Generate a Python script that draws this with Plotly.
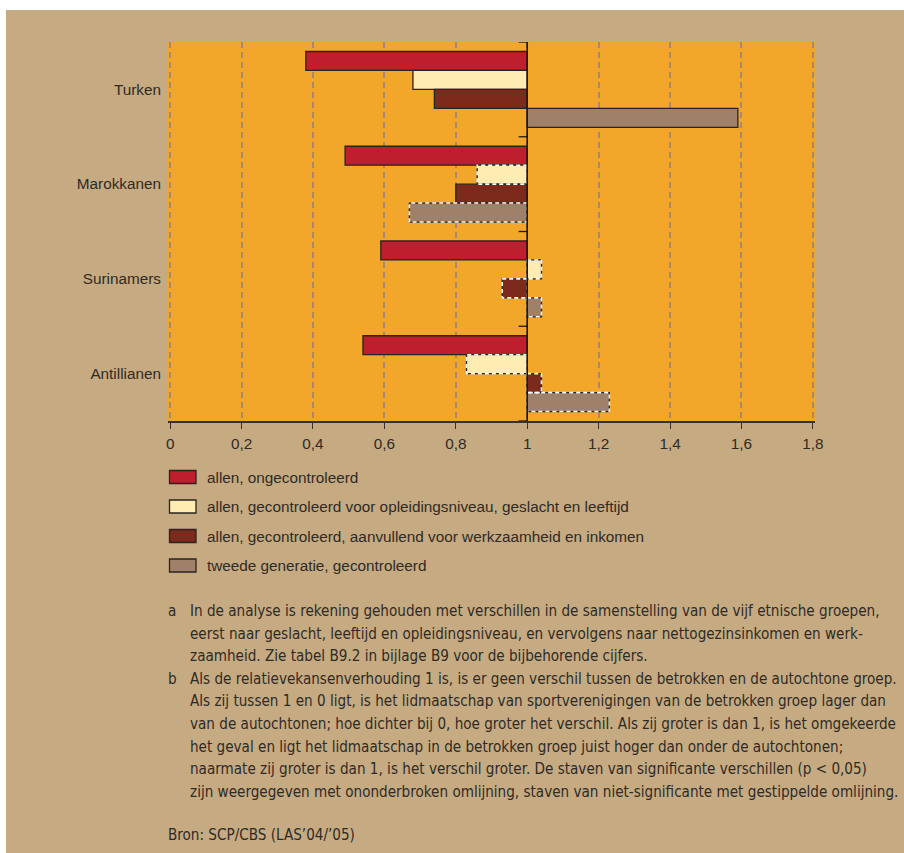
import plotly.graph_objects as go

# ---------------- data ----------------
categories = ["Turken", "Marokkanen", "Surinamers", "Antillianen"]
series_names = [
    "allen, ongecontroleerd",
    "allen, gecontroleerd voor opleidingsniveau, geslacht en leeftijd",
    "allen, gecontroleerd, aanvullend voor werkzaamheid en inkomen",
    "tweede generatie, gecontroleerd",
]
ongecontroleerd = [0.38, 0.49, 0.59, 0.54]
gecontroleerd_opleiding = [0.68, 0.86, 1.04, 0.83]
gecontroleerd_werk_inkomen = [0.74, 0.80, 0.93, 1.04]
tweede_generatie = [1.59, 0.67, 1.04, 1.23]

significant_ongecontroleerd = [True, True, True, True]
significant_opleiding = [True, False, False, False]
significant_werk_inkomen = [True, True, False, False]
significant_tweede = [True, False, False, False]

x_tick_values = [0, 0.2, 0.4, 0.6, 0.8, 1, 1.2, 1.4, 1.6, 1.8]
x_tick_labels = ["0", "0,2", "0,4", "0,6", "0,8", "1", "1,2", "1,4", "1,6", "1,8"]

footnote_a = [
    "In de analyse is rekening gehouden met verschillen in de samenstelling van de vijf etnische groepen,",
    "eerst naar geslacht, leeftijd en opleidingsniveau, en vervolgens naar nettogezinsinkomen en werk-",
    "zaamheid. Zie tabel B9.2 in bijlage B9 voor de bijbehorende cijfers.",
]
footnote_b = [
    "Als de relatievekansenverhouding 1 is, is er geen verschil tussen de betrokken en de autochtone groep.",
    "Als zij tussen 1 en 0 ligt, is het lidmaatschap van sportverenigingen van de betrokken groep lager dan",
    "van de autochtonen; hoe dichter bij 0, hoe groter het verschil. Als zij groter is dan 1, is het omgekeerde",
    "het geval en ligt het lidmaatschap in de betrokken groep juist hoger dan onder de autochtonen;",
    "naarmate zij groter is dan 1, is het verschil groter. De staven van significante verschillen (p &lt; 0,05)",
    "zijn weergegeven met ononderbroken omlijning, staven van niet-significante met gestippelde omlijning.",
]
source_text = "Bron: SCP/CBS (LAS’04/’05)"

BASE = 1.0

# ---------------- style ----------------
colors = ["#be1e2d", "#feecb2", "#7b2a1c", "#9f8068"]
values = [ongecontroleerd, gecontroleerd_opleiding, gecontroleerd_werk_inkomen, tweede_generatie]
significance = [significant_ongecontroleerd, significant_opleiding,
                significant_werk_inkomen, significant_tweede]

TAN = "#c6aa81"
ORANGE = "#f2a72b"
GRID = "#a68a6b"
DARK = "#2a2420"
TEXT = "#2f2a26"

W_PX, H_PX = 904, 853
ML, MR, MT, MB = 168, 89, 42, 432
PW = W_PX - ML - MR
PH = H_PX - MT - MB


def px(xpix):
    return (xpix - ML) / PW


def py(ypix):
    return (H_PX - MB - ypix) / PH


BARGAP = 0.2
n_series = len(values)
bar_w = (1 - BARGAP) / n_series

fig = go.Figure()
for name, vals, col in zip(series_names, values, colors):
    fig.add_trace(go.Bar(
        y=categories,
        x=[v - BASE for v in vals],
        base=BASE,
        orientation="h",
        name=name,
        marker=dict(color=col, line=dict(color=DARK, width=1.3)),
        showlegend=False,
    ))

shapes = []
# white page edges at left and top
shapes.append(dict(type="rect", xref="paper", yref="paper",
                   x0=px(-2), x1=px(6), y0=py(H_PX + 2), y1=py(-2),
                   fillcolor="white", line=dict(width=0), layer="below"))
shapes.append(dict(type="rect", xref="paper", yref="paper",
                   x0=px(-2), x1=px(W_PX + 2), y0=py(10), y1=py(-2),
                   fillcolor="white", line=dict(width=0), layer="below"))

# dashed overlay for non-significant bars
for i, (vals, sig) in enumerate(zip(values, significance)):
    offset = -(1 - BARGAP) / 2 + (i + 0.5) * bar_w
    for j, (v, s) in enumerate(zip(vals, sig)):
        if not s:
            c = j + offset
            shapes.append(dict(type="rect", xref="x", yref="y",
                               x0=BASE, x1=v, y0=c - bar_w / 2, y1=c + bar_w / 2,
                               line=dict(color="white", width=1.6, dash="4px,3px"),
                               fillcolor="rgba(0,0,0,0)", layer="above"))

# reference line at 1
shapes.append(dict(type="line", xref="x", yref="y domain", x0=BASE, x1=BASE, y0=0, y1=1,
                   line=dict(color="#1c1814", width=1.6), layer="above"))
# small ticks at group boundaries
for k in range(len(categories) + 1):
    shapes.append(dict(type="line", xref="x", yref="y", x0=BASE - 0.024, x1=BASE,
                       y0=k - 0.5, y1=k - 0.5,
                       line=dict(color="#1c1814", width=1.3), layer="above"))

annotations = []
# manual legend
legend_rows = [477, 506.5, 536, 565.5]
for name, col, yc in zip(series_names, colors, legend_rows):
    shapes.append(dict(type="rect", xref="paper", yref="paper",
                       x0=px(169.5), x1=px(196), y0=py(yc - 6.5), y1=py(yc + 6.5),
                       fillcolor=col, line=dict(color=DARK, width=1.3)))
    annotations.append(dict(xref="paper", yref="paper", x=px(205), y=py(yc),
                            xanchor="left", yanchor="middle", showarrow=False,
                            text=name, font=dict(family="Liberation Sans, Arial", size=15.3, color=TEXT)))

FOOT_FONT = dict(family="DejaVu Sans Condensed, Liberation Sans", size=15.1, color=TEXT)
line_y0 = 611
line_step = 22.6
all_lines = [("a", footnote_a), ("b", footnote_b)]
row = 0
for letter, lines in all_lines:
    annotations.append(dict(xref="paper", yref="paper", x=px(166), y=py(line_y0 + row * line_step),
                            xanchor="left", yanchor="middle", showarrow=False,
                            text=letter, font=FOOT_FONT))
    for ln in lines:
        annotations.append(dict(xref="paper", yref="paper", x=px(188), y=py(line_y0 + row * line_step),
                                xanchor="left", yanchor="middle", showarrow=False,
                                text=ln, font=FOOT_FONT))
        row += 1
annotations.append(dict(xref="paper", yref="paper", x=px(166), y=py(835),
                        xanchor="left", yanchor="middle", showarrow=False,
                        text=source_text, font=FOOT_FONT))

fig.update_layout(
    width=W_PX, height=H_PX,
    margin=dict(l=ML, r=MR, t=MT, b=MB, pad=0),
    paper_bgcolor=TAN,
    plot_bgcolor=ORANGE,
    barmode="group",
    bargap=BARGAP,
    bargroupgap=0,
    showlegend=False,
    font=dict(family="Liberation Sans, Arial", size=15.3, color=TEXT),
    shapes=shapes,
    annotations=annotations,
    xaxis=dict(
        range=[-0.006, 1.806],
        tickvals=x_tick_values, ticktext=x_tick_labels,
        showgrid=True, gridcolor=GRID, gridwidth=2, griddash="6px,4px",
        zeroline=False,
        showline=True, linecolor="#3b3026", linewidth=2,
        ticks="outside", ticklen=6, tickwidth=1.2, tickcolor="#3b3026",
        ticklabelstandoff=2,
        tickfont=dict(family="Liberation Sans, Arial", size=15.3, color=TEXT),
        fixedrange=True,
    ),
    yaxis=dict(
        type="category",
        categoryorder="array", categoryarray=categories,
        range=[len(categories) - 0.5, -0.5],
        showgrid=False, zeroline=False, showline=False,
        ticks="", ticklabelstandoff=6,
        tickfont=dict(family="Liberation Sans, Arial", size=15.3, color=TEXT),
        fixedrange=True,
    ),
)

fig.write_html("out.html", config={"displayModeBar": False},
               post_script="document.body.style.margin='0px';")
